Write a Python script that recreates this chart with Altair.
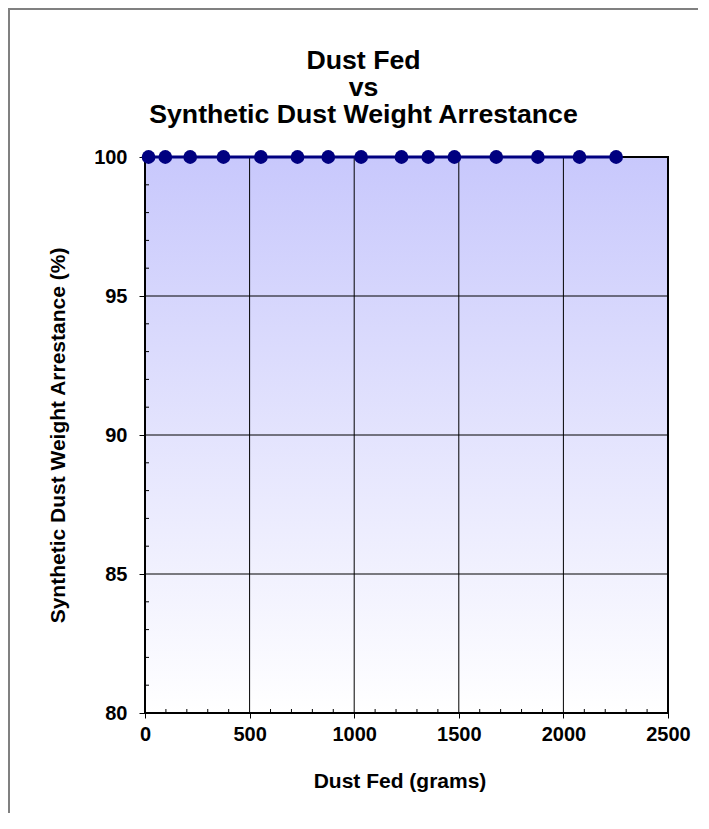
import altair as alt
import pandas as pd

# ---- data ----
dust_fed = [17, 97, 216, 375, 554, 729, 876, 1033, 1226, 1354, 1479, 1679, 1878, 2077, 2252]
arrestance = [100, 100, 100, 100, 100, 100, 100, 100, 100, 100, 100, 100, 100, 100, 100]

x_major = [0, 500, 1000, 1500, 2000, 2500]
y_major = [80, 85, 90, 95, 100]
x_grid = [500, 1000, 1500, 2000]
y_grid = [85, 90, 95]
x_minor = [100, 200, 300, 400, 600, 700, 800, 900, 1100, 1200, 1300, 1400,
           1600, 1700, 1800, 1900, 2100, 2200, 2300, 2400]
y_minor = [81, 82, 83, 84, 86, 87, 88, 89, 91, 92, 93, 94, 96, 97, 98, 99]

title_lines = ["Dust Fed", "vs", "Synthetic Dust Weight Arrestance"]
x_title = "Dust Fed (grams)"
y_title = "Synthetic Dust Weight Arrestance (%)"

W, H = 523, 556
FONT = "Liberation Sans"
NAVY = "#000080"

df = pd.DataFrame({"x": dust_fed, "y": arrestance})
one = pd.DataFrame({"k": [0]})

xs = alt.Scale(domain=[0, 2500], nice=False, zero=False)
ys = alt.Scale(domain=[80, 100], nice=False, zero=False)

x_axis = alt.Axis(values=x_major, title=x_title, grid=False, domain=False, format="d",
                  tickSize=5, tickColor="black", labelPadding=6,
                  labelFont=FONT, labelFontSize=20, labelFontWeight="bold", labelColor="black",
                  titleFont=FONT, titleFontSize=21, titleFontWeight="bold", titleColor="black",
                  titlePadding=26, titleX=W / 2 - 7, labelFlush=False)
y_axis = alt.Axis(values=y_major, title=y_title, grid=False, domain=False, format="d",
                  tickSize=6, tickColor="black", labelPadding=12,
                  labelFont=FONT, labelFontSize=20, labelFontWeight="bold", labelColor="black",
                  titleFont=FONT, titleFontSize=21, titleFontWeight="bold", titleColor="black",
                  titlePadding=25)

# gradient background of the plot area
bg = alt.Chart(one).mark_rect(
    fill=alt.LinearGradient(
        gradient="linear",
        stops=[alt.GradientStop(color="#C8C8FC", offset=0),
               alt.GradientStop(color="#FFFFFF", offset=1)],
        x1=0, x2=0, y1=0, y2=1,
    )
).encode(x=alt.value(0), x2=alt.value(W), y=alt.value(0), y2=alt.value(H))

# outer frame (gray) like the spreadsheet chart area
frame_top = alt.Chart(one).mark_rule(color="#808080", strokeWidth=2).encode(
    x=alt.value(-140), x2=alt.value(W + 60), y=alt.value(-148))
frame_left = alt.Chart(one).mark_rule(color="#808080", strokeWidth=2).encode(
    x=alt.value(-136), y=alt.value(-150), y2=alt.value(H + 140))

gx = alt.Chart(pd.DataFrame({"g": x_grid})).mark_rule(color="black", strokeWidth=1).encode(
    x=alt.X("g:Q", scale=xs, axis=x_axis), y=alt.value(0), y2=alt.value(H))
gy = alt.Chart(pd.DataFrame({"g": y_grid})).mark_rule(color="black", strokeWidth=1).encode(
    y=alt.Y("g:Q", scale=ys, axis=y_axis), x=alt.value(0), x2=alt.value(W))

mx = alt.Chart(pd.DataFrame({"m": x_minor})).mark_rule(color="black", strokeWidth=1).encode(
    x=alt.X("m:Q", scale=xs, axis=x_axis), y=alt.value(H - 4), y2=alt.value(H))
my = alt.Chart(pd.DataFrame({"m": y_minor})).mark_rule(color="black", strokeWidth=1).encode(
    y=alt.Y("m:Q", scale=ys, axis=y_axis), x=alt.value(0), x2=alt.value(4))

border = alt.Chart(one).mark_rect(fillOpacity=0, stroke="black", strokeWidth=2).encode(
    x=alt.value(0), x2=alt.value(W), y=alt.value(0), y2=alt.value(H))

line = alt.Chart(df).mark_line(color=NAVY, strokeWidth=3).encode(
    x=alt.X("x:Q", scale=xs, axis=x_axis),
    y=alt.Y("y:Q", scale=ys, axis=y_axis),
)
pts = alt.Chart(df).mark_point(filled=True, color=NAVY, opacity=1, size=190).encode(
    x=alt.X("x:Q", scale=xs, axis=x_axis),
    y=alt.Y("y:Q", scale=ys, axis=y_axis),
)

chart = alt.layer(bg, gx, gy, mx, my, border, line, pts, frame_top, frame_left).properties(
    width=W, height=H,
    title=alt.TitleParams(text=title_lines, font=FONT, fontSize=26.7, fontWeight="bold",
                          color="black", lineHeight=27, anchor="middle", frame="group",
                          dx=-43, offset=-123),
    autosize=alt.AutoSizeParams(type="none"),
    padding={"left": 137, "top": 149, "right": 30, "bottom": 100},
).configure_view(stroke=None).configure(background="white")

chart.save("out.html", embed_options={"renderer": "svg", "actions": False})
